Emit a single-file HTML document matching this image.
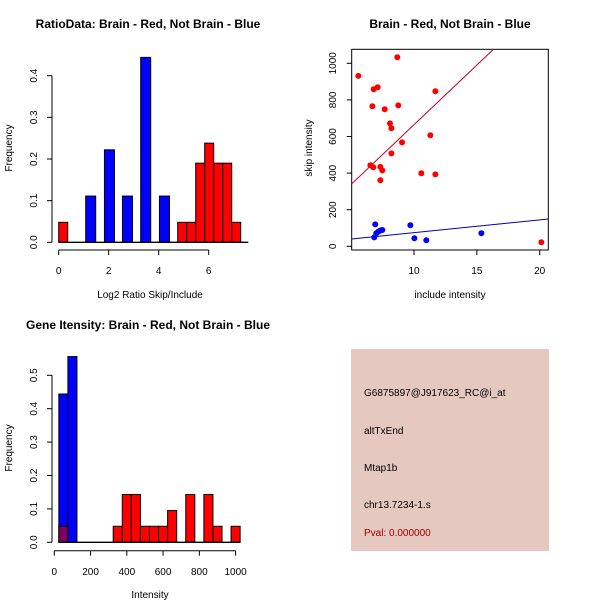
<!DOCTYPE html>
<html><head><meta charset="utf-8"><style>
body{margin:0;background:#fff}
svg{display:block}
text{font-family:"Liberation Sans",Arial,sans-serif;fill:#000}
</style></head><body>
<svg id="s" width="600" height="600" xmlns="http://www.w3.org/2000/svg">
<text x="148" y="28" text-anchor="middle" font-size="12" font-weight="bold">RatioData: Brain - Red, Not Brain - Blue</text>
<text x="450" y="28" text-anchor="middle" font-size="12" font-weight="bold">Brain - Red, Not Brain - Blue</text>
<text x="148" y="329" text-anchor="middle" font-size="12" font-weight="bold">Gene Itensity: Brain - Red, Not Brain - Blue</text>
<text x="150" y="298" text-anchor="middle" font-size="10">Log2 Ratio Skip/Include</text>
<text x="450" y="298" text-anchor="middle" font-size="10">include intensity</text>
<text x="150" y="598" text-anchor="middle" font-size="10">Intensity</text>
<text transform="translate(12,148) rotate(-90)" text-anchor="middle" font-size="10">Frequency</text>
<text transform="translate(312,148) rotate(-90)" text-anchor="middle" font-size="10">skip intensity</text>
<text transform="translate(12,448) rotate(-90)" text-anchor="middle" font-size="10">Frequency</text>
<rect x="351" y="349" width="198" height="202" fill="#e5c8c0"/>
<text x="364" y="396" font-size="10">G6875897@J917623_RC@i_at</text>
<text x="364" y="434" font-size="10">altTxEnd</text>
<text x="364" y="471" font-size="10">Mtap1b</text>
<text x="364" y="508" font-size="10">chr13.7234-1.s</text>
<text x="364" y="536" font-size="10" style="fill:#a00000">Pval: 0.000000</text>
</svg>
<script>
// Chart 1 data
const ratioRedStarts=[0,4.76,5.12,5.48,5.84,6.20,6.56,6.92];
const ratioRedFreq=[0.048,0.048,0.048,0.19,0.238,0.19,0.19,0.048];
const ratioBlueStarts=[1.08,1.83,2.55,3.28,4.03];
const ratioBlueFreq=[0.111,0.222,0.111,0.444,0.111];
const ratioXTicks=[0,2,4,6];
const ratioYTicks=[0,0.1,0.2,0.3,0.4];
// Chart 2 data
const redInclude=[5.57,6.79,7.11,6.69,7.67,8.75,8.67,11.70,8.09,8.20,9.05,8.20,6.53,6.76,7.32,7.48,7.32,10.58,11.70,11.30,20.13];
const redSkip=[931,858,869,765,749,770,1033,847,672,645,568,508,443,432,434,415,361,399,393,607,22];
const blueInclude=[6.92,6.84,7.0,7.16,7.32,7.48,9.71,10.03,10.98,15.36];
const blueSkip=[120,49,71,80,86,89,115,44,33,71];
const redFit=[12.4,65.2];
const blueFit=[4.9,6.97];
const scatterXTicks=[10,15,20];
const scatterYTicks=[0,200,400,600,800,1000];
// Chart 3 data
const intBlueStarts=[25,75];
const intBlueFreq=[0.444,0.556];
const intRedStarts=[25,325,375,425,475,525,575,625,725,825,875,975];
const intRedFreq=[0.048,0.048,0.143,0.143,0.048,0.048,0.048,0.095,0.143,0.143,0.048,0.048];
const intXTicks=[0,200,400,600,800,1000];
const intYTicks=[0,0.1,0.2,0.3,0.4,0.5];

const S=document.getElementById('s');
const NS='http://www.w3.org/2000/svg';
function mk(tag,a){const e=document.createElementNS(NS,tag);for(const k in a)e.setAttribute(k,a[k]);S.appendChild(e);return e;}

// Chart 1
const x1=v=>58.7+v*25, y1=v=>242.3-v*416.5;
ratioRedStarts.forEach((s,i)=>{const r=mk('rect',{x:x1(s),y:y1(ratioRedFreq[i]),width:9,height:y1(0)-y1(ratioRedFreq[i]),fill:'#ff0000',stroke:'#000','stroke-width':1});

});
ratioBlueStarts.forEach((s,i)=>{const r=mk('rect',{x:x1(s),y:y1(ratioBlueFreq[i]),width:10,height:y1(0)-y1(ratioBlueFreq[i]),fill:'#0000ff',stroke:'#000','stroke-width':1});

});
let l=mk('line',{x1:58.7,x2:248.3,y1:y1(0),y2:y1(0),stroke:'#000','stroke-width':1.3});


l=mk('line',{x1:x1(0),x2:x1(6),y1:250,y2:250,stroke:'#000'});


ratioXTicks.forEach(t=>{mk('line',{x1:x1(t),x2:x1(t),y1:250,y2:255,stroke:'#000'});
const tx=mk('text',{x:x1(t),y:274,'text-anchor':'middle','font-size':10});tx.textContent=t;

});
l=mk('line',{x1:52,x2:52,y1:y1(0),y2:y1(0.4),stroke:'#000'});


ratioYTicks.forEach(t=>{mk('line',{x1:47,x2:52,y1:y1(t),y2:y1(t),stroke:'#000'});
const tx=mk('text',{transform:`translate(37,${y1(t)}) rotate(-90)`,'text-anchor':'middle','font-size':10});tx.textContent=t.toFixed(1);

});

// Chart 2
const x2=v=>414+(v-10)*12.57, y2=v=>246.3-v*0.183;
const box=mk('rect',{x:351.7,y:49.3,width:196.6,height:200.7,fill:'none',stroke:'#000'});


const cp=document.createElementNS(NS,'clipPath');cp.id='c2';const cr=document.createElementNS(NS,'rect');
cr.setAttribute('x',351.7);cr.setAttribute('y',49.3);cr.setAttribute('width',196.6);cr.setAttribute('height',200.7);cp.appendChild(cr);S.appendChild(cp);
[[redFit,'#c00020','red-fit-line'],[blueFit,'#0000b0','blue-fit-line']].forEach(([f,c,n])=>{
const xa=5.04,xb=20.69;const ln=mk('line',{x1:x2(xa),y1:y2(f[0]+f[1]*xa),x2:x2(xb),y2:y2(f[0]+f[1]*xb),stroke:c,'stroke-width':1,'clip-path':'url(#c2)'});

});
redInclude.forEach((v,i)=>{const c=mk('circle',{cx:x2(v),cy:y2(redSkip[i]),r:3,fill:'#ff0000'});

});
blueInclude.forEach((v,i)=>{const c=mk('circle',{cx:x2(v),cy:y2(blueSkip[i]),r:3,fill:'#0000ff'});

});
scatterXTicks.forEach(t=>{mk('line',{x1:x2(t),x2:x2(t),y1:250,y2:255,stroke:'#000'});
const tx=mk('text',{x:x2(t),y:274,'text-anchor':'middle','font-size':10});tx.textContent=t;

});
scatterYTicks.forEach(t=>{mk('line',{x1:346.7,x2:351.7,y1:y2(t),y2:y2(t),stroke:'#000'});
const tx=mk('text',{transform:`translate(336,${y2(t)}) rotate(-90)`,'text-anchor':'middle','font-size':10});tx.textContent=t;

});

// Chart 3
const x3=v=>54.3+v*0.1813, y3=v=>542.3-v*334;
intBlueStarts.forEach((s,i)=>{const r=mk('rect',{x:x3(s),y:y3(intBlueFreq[i]),width:50*0.1813,height:y3(0)-y3(intBlueFreq[i]),fill:'#0000ff',stroke:'#000'});

});
intRedStarts.forEach((s,i)=>{const r=mk('rect',{x:x3(s),y:y3(intRedFreq[i]),width:50*0.1813,height:y3(0)-y3(intRedFreq[i]),fill:s<100?'#800060':'#ff0000',stroke:'#000'});

});
l=mk('line',{x1:x3(25),x2:x3(1025),y1:y3(0),y2:y3(0),stroke:'#000','stroke-width':1.3});


l=mk('line',{x1:x3(0),x2:x3(1000),y1:550.7,y2:550.7,stroke:'#000'});


intXTicks.forEach(t=>{mk('line',{x1:x3(t),x2:x3(t),y1:550.7,y2:555.7,stroke:'#000'});
const tx=mk('text',{x:x3(t),y:575,'text-anchor':'middle','font-size':10});tx.textContent=t;

});
l=mk('line',{x1:52,x2:52,y1:y3(0),y2:y3(0.5),stroke:'#000'});


intYTicks.forEach(t=>{mk('line',{x1:47,x2:52,y1:y3(t),y2:y3(t),stroke:'#000'});
const tx=mk('text',{transform:`translate(37,${y3(t)}) rotate(-90)`,'text-anchor':'middle','font-size':10});tx.textContent=t.toFixed(1);

});
</script>
</body></html>
